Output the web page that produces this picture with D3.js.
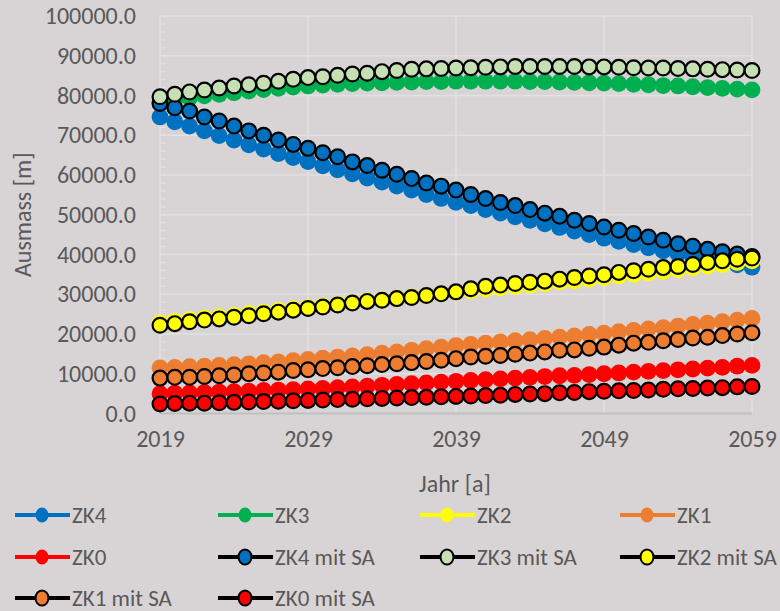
<!DOCTYPE html>
<html>
<head>
<meta charset="utf-8">
<script src="https://cdn.jsdelivr.net/npm/d3@7"></script>
<style>
  body { margin: 0; background: #d8d4d5; }
  text { font-family: Carlito, "Liberation Sans Narrow", "Open Sans", sans-serif; fill: #595959; }
</style>
</head>
<body>
<div id="chart"></div>
<script>
// years 2019..2059
const years = d3.range(2019, 2060);

const zk4 = [74600, 73400, 72300, 71100, 69900, 68800, 67600, 66500, 65400, 64400,
  63400, 62300, 61300, 60300, 59200, 58200, 57200, 56200, 55100, 54100,
  53100, 52300, 51300, 50400, 49500, 48600, 47700, 46800, 45900, 45000,
  44100, 43300, 42500, 41700, 40900, 40200, 39500, 38800, 38100, 37400, 36800];
const zk3 = [78300, 78900, 79400, 79900, 80300, 80700, 81100, 81500, 81800, 82100,
  82400, 82600, 82800, 83000, 83100, 83200, 83300, 83400, 83500, 83500,
  83600, 83600, 83600, 83600, 83600, 83500, 83500, 83400, 83300, 83200,
  83100, 83000, 82800, 82700, 82500, 82400, 82200, 82000, 81800, 81600, 81400];
const zk2 = [22800, 23200, 23600, 24000, 24300, 24700, 25100, 25500, 25900, 26300,
  26700, 27100, 27500, 27900, 28300, 28600, 29000, 29300, 29700, 30100,
  30500, 30900, 31300, 31600, 32000, 32300, 32700, 33100, 33400, 33800,
  34200, 34600, 35000, 35400, 35800, 36200, 36700, 37100, 37500, 38000, 38400];
const zk1 = [11500, 11600, 11800, 11900, 12100, 12300, 12500, 12800, 13000, 13300,
  13600, 13900, 14200, 14500, 14800, 15200, 15500, 15900, 16300, 16700,
  17100, 17400, 17700, 18000, 18300, 18600, 18900, 19200, 19500, 19900,
  20200, 20600, 20900, 21300, 21600, 22000, 22400, 22700, 23100, 23500, 23900];
const zk0 = [5000, 5100, 5200, 5300, 5400, 5500, 5600, 5800, 5900, 6000,
  6200, 6300, 6500, 6700, 6900, 7100, 7300, 7500, 7700, 7900,
  8100, 8300, 8500, 8700, 8900, 9100, 9300, 9500, 9600, 9800,
  10000, 10200, 10400, 10600, 10800, 11000, 11200, 11400, 11600, 11900, 12100];
const zk4SA = [78000, 76900, 76100, 74600, 73600, 72300, 71100, 70000, 68800, 67700,
  66700, 65600, 64600, 63300, 62400, 61200, 60200, 59100, 58000, 57200,
  56200, 55100, 54100, 53100, 52300, 51300, 50400, 49600, 48600, 47800,
  46900, 46100, 45300, 44400, 43600, 42700, 42100, 41300, 40700, 40100, 39500];
const zk3SA = [79700, 80300, 80900, 81400, 81900, 82400, 82700, 83100, 83600, 84100,
  84500, 84700, 85100, 85400, 85600, 86000, 86300, 86600, 86700, 86800,
  86900, 87000, 87100, 87200, 87300, 87300, 87300, 87300, 87300, 87200,
  87200, 87100, 87000, 86900, 86900, 86800, 86700, 86600, 86500, 86400, 86300];
const zk2SA = [22200, 22600, 23100, 23500, 23800, 24200, 24600, 25100, 25500, 26000,
  26400, 26800, 27300, 27800, 28200, 28500, 28900, 29200, 29700, 30100,
  30600, 31400, 32000, 32300, 32700, 33000, 33300, 33800, 34200, 34600,
  34900, 35500, 35900, 36300, 36700, 37000, 37500, 38000, 38400, 38800, 39100];
const zk1SA = [8900, 9100, 9100, 9300, 9500, 9700, 10000, 10200, 10400, 10800,
  11000, 11300, 11500, 11800, 12000, 12300, 12500, 12800, 13100, 13400,
  13800, 14200, 14400, 14600, 14900, 15200, 15500, 15900, 16000, 16400,
  16700, 17200, 17700, 17900, 18300, 18600, 19000, 19200, 19600, 20000, 20300];
const zk0SA = [2400, 2500, 2600, 2600, 2700, 2800, 2900, 3000, 3100, 3200,
  3300, 3400, 3500, 3600, 3700, 3800, 3900, 4000, 4100, 4200,
  4300, 4400, 4500, 4600, 4800, 4900, 5000, 5200, 5300, 5500,
  5600, 5700, 5800, 5900, 6100, 6200, 6300, 6400, 6500, 6700, 6800];

const yTicks = [0, 10000, 20000, 30000, 40000, 50000, 60000, 70000, 80000, 90000, 100000];
const xTicks = [2019, 2029, 2039, 2049, 2059];

// name, values, fill, line/stroke colour
const series = [
  { name: "ZK4", values: zk4, fill: "#0070c0", stroke: "#0070c0", sa: false },
  { name: "ZK3", values: zk3, fill: "#00b050", stroke: "#00b050", sa: false },
  { name: "ZK2", values: zk2, fill: "#ffff00", stroke: "#ffff00", sa: false },
  { name: "ZK1", values: zk1, fill: "#ed7d31", stroke: "#ed7d31", sa: false },
  { name: "ZK0", values: zk0, fill: "#ff0000", stroke: "#ff0000", sa: false },
  { name: "ZK4 mit SA", values: zk4SA, fill: "#0070c0", stroke: "#000", sa: true },
  { name: "ZK3 mit SA", values: zk3SA, fill: "#c6e0b4", stroke: "#000", sa: true },
  { name: "ZK2 mit SA", values: zk2SA, fill: "#ffff00", stroke: "#000", sa: true },
  { name: "ZK1 mit SA", values: zk1SA, fill: "#ed7d31", stroke: "#000", sa: true },
  { name: "ZK0 mit SA", values: zk0SA, fill: "#ff0000", stroke: "#000", sa: true }
];

const width = 780, height = 611;
const margin = { left: 160, right: 28, top: 16, bottom: 198 };
const fontSize = 24;

const svg = d3.select("#chart").append("svg")
  .attr("width", width)
  .attr("height", height);

svg.append("rect").attr("width", width).attr("height", height).attr("fill", "#d8d4d5");

const x = d3.scaleLinear().domain([2019, 2059]).range([margin.left, width - margin.right]);
const y = d3.scaleLinear().domain([0, 100000]).range([height - margin.bottom + 0.5, margin.top]);

// gridlines
svg.append("g").selectAll("line").data(yTicks.slice(1)).join("line")
  .attr("x1", margin.left).attr("x2", width - margin.right)
  .attr("y1", d => y(d)).attr("y2", d => y(d))
  .attr("stroke", "#e2e0e0").attr("stroke-width", 1.5);
svg.append("g").selectAll("line").data(xTicks.slice(1)).join("line")
  .attr("x1", d => x(d)).attr("x2", d => x(d))
  .attr("y1", margin.top).attr("y2", y(0))
  .attr("stroke", "#e2e0e0").attr("stroke-width", 1.5);

// y axis with minor ticks
const yMinor = d3.range(0, 100001, 2000);
svg.append("g").selectAll("line").data(yMinor).join("line")
  .attr("x1", margin.left).attr("x2", margin.left + 6)
  .attr("y1", d => y(d)).attr("y2", d => y(d))
  .attr("stroke", "#e2e0e0").attr("stroke-width", 1.2);
svg.append("line")
  .attr("x1", margin.left).attr("x2", margin.left)
  .attr("y1", margin.top).attr("y2", y(0))
  .attr("stroke", "#e2e0e0").attr("stroke-width", 1.5);

const yAxis = d3.axisLeft(y).tickValues(yTicks).tickSize(0).tickPadding(24)
  .tickFormat(d3.format(".1f"));
const gy = svg.append("g").attr("transform", `translate(${margin.left},0)`).call(yAxis);
gy.select(".domain").remove();
gy.selectAll("text").attr("font-size", fontSize).attr("fill", "#595959").attr("font-family", null);

// x axis
svg.append("line")
  .attr("x1", margin.left).attr("x2", width - margin.right)
  .attr("y1", y(0)).attr("y2", y(0))
  .attr("stroke", "#bfbfbf").attr("stroke-width", 2);
const xAxis = d3.axisBottom(x).tickValues(xTicks).tickSize(0).tickPadding(16)
  .tickFormat(d3.format("d"));
const gx = svg.append("g").attr("transform", `translate(0,${y(0)})`).call(xAxis);
gx.select(".domain").remove();
gx.selectAll("text").attr("font-size", fontSize).attr("fill", "#595959").attr("font-family", null);

// axis titles
svg.append("text")
  .attr("x", 455).attr("y", 492)
  .attr("text-anchor", "middle").attr("font-size", fontSize)
  .text("Jahr [a]");
svg.append("text")
  .attr("transform", `translate(31,${(margin.top + y(0)) / 2}) rotate(-90)`)
  .attr("text-anchor", "middle").attr("font-size", fontSize)
  .text("Ausmass [m]");

// series
const line = d3.line().x((d, i) => x(years[i])).y(d => y(d));
series.forEach(s => {
  const g = svg.append("g");
  g.append("path").datum(s.values)
    .attr("d", line).attr("fill", "none")
    .attr("stroke", s.stroke).attr("stroke-width", 3);
  g.selectAll("circle").data(s.values).join("circle")
    .attr("cx", (d, i) => x(years[i]))
    .attr("cy", d => y(d))
    .attr("r", s.sa ? 7.4 : 8.4)
    .attr("fill", s.fill)
    .attr("stroke", s.sa ? "#000" : "none")
    .attr("stroke-width", s.sa ? 2.2 : 0);
});

// legend
const legX = [15, 218, 420, 620];
const legY = [515, 557, 598];
const leg = svg.append("g").selectAll("g").data(series).join("g")
  .attr("transform", (d, i) => `translate(${legX[i % 4]},${legY[Math.floor(i / 4)]})`);
leg.append("line")
  .attr("x1", 0).attr("x2", 55).attr("y1", 0).attr("y2", 0)
  .attr("stroke", d => d.stroke).attr("stroke-width", 4);
leg.append("ellipse")
  .attr("cx", 27).attr("cy", 0).attr("rx", 6.5).attr("ry", 7.5)
  .attr("fill", d => d.fill)
  .attr("stroke", d => d.sa ? "#000" : "none")
  .attr("stroke-width", 2);
leg.append("text")
  .attr("x", 57).attr("y", 8)
  .attr("font-size", 23)
  .text(d => d.name);
</script>
</body>
</html>
